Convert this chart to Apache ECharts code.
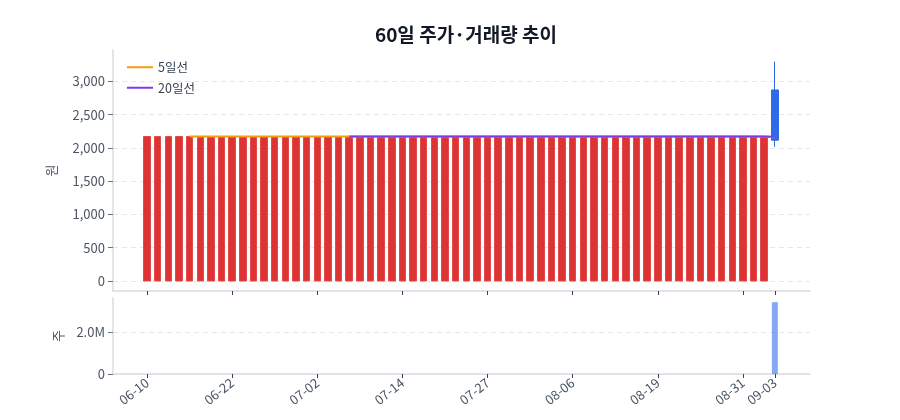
<!DOCTYPE html>
<html>
<head>
<meta charset="utf-8">
<script src="https://cdn.jsdelivr.net/npm/echarts@6/dist/echarts.min.js"></script>
<style>
  html, body { margin: 0; padding: 0; background: #fff; }
  #chart { width: 900px; height: 420px; }
</style>
</head>
<body>
<div id="chart"></div>
<script>
// 60 trading days (MM-DD)
const dates = [
  '06-10','06-11','06-12','06-13','06-16','06-17','06-18','06-19','06-22','06-23',
  '06-24','06-25','06-26','06-29','06-30','07-01','07-02','07-03','07-06','07-07',
  '07-08','07-09','07-10','07-13','07-14','07-15','07-16','07-17','07-20','07-21',
  '07-22','07-24','07-27','07-28','07-29','07-30','07-31','08-03','08-04','08-05',
  '08-06','08-07','08-10','08-11','08-12','08-13','08-14','08-18','08-19','08-20',
  '08-21','08-24','08-25','08-26','08-27','08-28','08-31','09-01','09-02','09-03'
];
const openPrice = [
  0,0,0,0,0,0,0,0,0,0, 0,0,0,0,0,0,0,0,0,0,
  0,0,0,0,0,0,0,0,0,0, 0,0,0,0,0,0,0,0,0,0,
  0,0,0,0,0,0,0,0,0,0, 0,0,0,0,0,0,0,0,0,2870
];
const closePrice = [
  2170,2170,2170,2170,2170,2170,2170,2170,2170,2170, 2170,2170,2170,2170,2170,2170,2170,2170,2170,2170,
  2170,2170,2170,2170,2170,2170,2170,2170,2170,2170, 2170,2170,2170,2170,2170,2170,2170,2170,2170,2170,
  2170,2170,2170,2170,2170,2170,2170,2170,2170,2170, 2170,2170,2170,2170,2170,2170,2170,2170,2170,2115
];
const lowPrice = [
  0,0,0,0,0,0,0,0,0,0, 0,0,0,0,0,0,0,0,0,0,
  0,0,0,0,0,0,0,0,0,0, 0,0,0,0,0,0,0,0,0,0,
  0,0,0,0,0,0,0,0,0,0, 0,0,0,0,0,0,0,0,0,2015
];
const highPrice = [
  2170,2170,2170,2170,2170,2170,2170,2170,2170,2170, 2170,2170,2170,2170,2170,2170,2170,2170,2170,2170,
  2170,2170,2170,2170,2170,2170,2170,2170,2170,2170, 2170,2170,2170,2170,2170,2170,2170,2170,2170,2170,
  2170,2170,2170,2170,2170,2170,2170,2170,2170,2170, 2170,2170,2170,2170,2170,2170,2170,2170,2170,3295
];
const ma5 = [
  '-','-','-','-',2170,2170,2170,2170,2170,2170, 2170,2170,2170,2170,2170,2170,2170,2170,2170,2170,
  2170,2170,2170,2170,2170,2170,2170,2170,2170,2170, 2170,2170,2170,2170,2170,2170,2170,2170,2170,2170,
  2170,2170,2170,2170,2170,2170,2170,2170,2170,2170, 2170,2170,2170,2170,2170,2170,2170,2170,2170,2159
];
const ma20 = [
  '-','-','-','-','-','-','-','-','-','-', '-','-','-','-','-','-','-','-','-',2170,
  2170,2170,2170,2170,2170,2170,2170,2170,2170,2170, 2170,2170,2170,2170,2170,2170,2170,2170,2170,2170,
  2170,2170,2170,2170,2170,2170,2170,2170,2170,2170, 2170,2170,2170,2170,2170,2170,2170,2170,2170,2167
];
const volume = [
  0,0,0,0,0,0,0,0,0,0, 0,0,0,0,0,0,0,0,0,0,
  0,0,0,0,0,0,0,0,0,0, 0,0,0,0,0,0,0,0,0,0,
  0,0,0,0,0,0,0,0,0,0, 0,0,0,0,0,0,0,0,0,3450000
];
const xTickIdx = [0, 8, 16, 24, 32, 40, 48, 56, 59];
const priceTicks = [0, 500, 1000, 1500, 2000, 2500, 3000];
const volTicks = [0, 2000000];

const font = 'Noto Sans CJK KR';
const textCol = '#4b5563';

let candleData = []
let ma5Data = []
let ma20Data = []
let volData = []
for (let i = 0; i < dates.length; i++) {
    candleData.push([i, openPrice[i], closePrice[i], lowPrice[i], highPrice[i]])
    ma5Data.push([i, ma5[i]])
    ma20Data.push([i, ma20[i]])
    volData.push({
        value: [i, volume[i]],
        itemStyle: { color: closePrice[i] >= openPrice[i] ? 'rgba(221,51,51,0.55)' : 'rgba(37,99,235,0.55)' }
    })
}

const xBase = {
    type: 'value',
    min: -3.2,
    max: 62.3,
    axisLine: { show: true, onZero: false, lineStyle: { color: '#d8dce3', width: 1.5 } },
    axisTick: { show: true, customValues: xTickIdx, length: 4, lineStyle: { color: '#374151' } },
    splitLine: { show: false }
};

let myChart = echarts.init(document.getElementById('chart'), null, { renderer: 'canvas' });
let option = {
    animation: false,
    textStyle: { fontFamily: font },
    title: {
        text: '60일 주가·거래량 추이',
        left: 461, top: 20, textAlign: 'center',
        textStyle: { fontFamily: font, fontSize: 19, fontWeight: 'bold', color: '#111827' }
    },
    legend: {
        orient: 'vertical',
        left: 122, top: 56,
        itemWidth: 26, itemHeight: 2, itemGap: 8,
        icon: 'rect',
        textStyle: { fontFamily: font, fontSize: 12.5, color: '#374151' },
        data: ['5일선', '20일선']
    },
    grid: [
        { left: 113, right: 90, top: 50, height: 241 },
        { left: 113, right: 90, top: 298, height: 76 }
    ],
    xAxis: [
        Object.assign({}, xBase, { gridIndex: 0, axisLabel: { show: false } }),
        Object.assign({}, xBase, {
            gridIndex: 1,
            axisLabel: {
                customValues: xTickIdx,
                rotate: 38, fontSize: 13, color: textCol, fontFamily: font, margin: 7,
                formatter: (v) => dates[Math.round(v)]
            }
        })
    ],
    yAxis: [
        {
            gridIndex: 0, type: 'value', min: -150, max: 3470,
            name: '원', nameLocation: 'middle', nameGap: 55, nameRotate: 90,
            nameTextStyle: { fontFamily: font, fontSize: 13, color: textCol },
            axisLine: { show: true, onZero: false, lineStyle: { color: '#d8dce3', width: 1.5 } },
            axisTick: { show: true, customValues: priceTicks, length: 5, lineStyle: { color: '#6b7280' } },
            axisLabel: {
                customValues: priceTicks, fontSize: 13, color: textCol, fontFamily: font, margin: 8,
                formatter: (v) => v.toLocaleString('en-US')
            },
            splitLine: { show: true, lineStyle: { color: '#e5e7eb', type: [5, 4] } }
        },
        {
            gridIndex: 1, type: 'value', min: 0, max: 3650000,
            name: '주', nameLocation: 'middle', nameGap: 48, nameRotate: 90,
            nameTextStyle: { fontFamily: font, fontSize: 13, color: textCol },
            axisLine: { show: true, onZero: false, lineStyle: { color: '#d8dce3', width: 1.5 } },
            axisTick: { show: true, customValues: volTicks, length: 5, lineStyle: { color: '#6b7280' } },
            axisLabel: {
                customValues: volTicks, fontSize: 13, color: textCol, fontFamily: font, margin: 8,
                formatter: (v) => v === 0 ? '0' : (v / 1000000).toFixed(1) + 'M'
            },
            splitLine: { show: true, lineStyle: { color: '#e5e7eb', type: [5, 4] } }
        }
    ],
    series: [
        {
            name: '주가',
            type: 'candlestick',
            xAxisIndex: 0, yAxisIndex: 0,
            encode: { x: 0, y: [1, 2, 3, 4] },
            barWidth: 7,
            data: candleData,
            itemStyle: {
                color: '#dd3333', borderColor: '#e34a4a',
                color0: '#2f6ae8', borderColor0: '#2f6ae8',
                borderWidth: 1
            }
        },
        {
            name: '5일선', type: 'line', xAxisIndex: 0, yAxisIndex: 0,
            data: ma5Data, symbol: 'none', color: '#f59e0b',
            lineStyle: { width: 2, color: '#f59e0b' }
        },
        {
            name: '20일선', type: 'line', xAxisIndex: 0, yAxisIndex: 0,
            data: ma20Data, symbol: 'none', color: '#7c3aed',
            lineStyle: { width: 2, color: '#7c3aed' }
        },
        {
            name: '거래량', type: 'bar', xAxisIndex: 1, yAxisIndex: 1,
            barWidth: 6,
            data: volData
        }
    ]
};
myChart.setOption(option);
window.addEventListener('resize', myChart.resize);
</script>
</body>
</html>
